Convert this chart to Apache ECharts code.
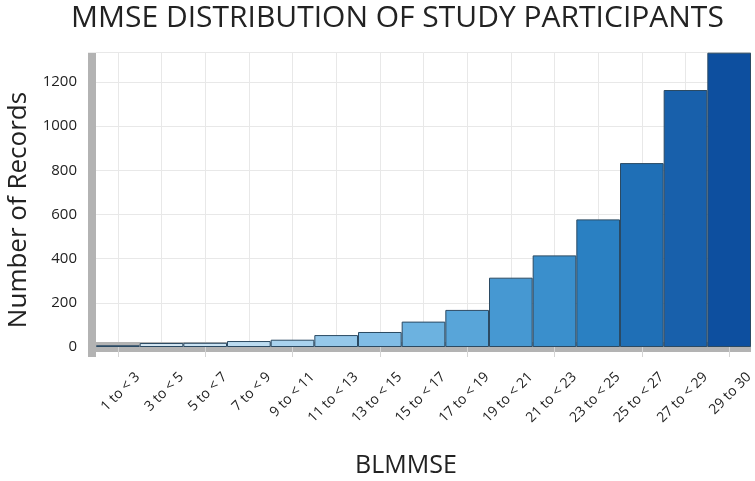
<!DOCTYPE html>
<html>
<head>
<meta charset="utf-8">
<script src="https://cdn.jsdelivr.net/npm/echarts@6/dist/echarts.min.js"></script>
<style>
html,body{margin:0;padding:0;background:#fff;}
#chart{width:755px;height:481px;}
</style>
</head>
<body>
<div id="chart"></div>
<script>
const categories = ['1 to < 3','3 to < 5','5 to < 7','7 to < 9','9 to < 11','11 to < 13','13 to < 15','15 to < 17','17 to < 19','19 to < 21','21 to < 23','23 to < 25','25 to < 27','27 to < 29','29 to 30'];
const counts = [8, 18, 19, 27, 33, 54, 68, 115, 168, 314, 415, 578, 833, 1164, 1333];
const barColors = ['#dfe9f1','#d5e7f3','#cae3f3','#bcdcf1','#a9d2ee','#95c8ea','#80bce5','#6cb2e0','#58a5d9','#4698d2','#3a8fcc','#2a80c2','#1f6fb6','#1860ab','#0d4f9f'];
const yMax = 1333;
const yInterval = 200;

const FONT = '"Open Sans", "Liberation Sans", sans-serif';
const gridLeft = 96, gridRight = 4, gridTop = 52.7, gridBottom = 134;

const chart = echarts.init(document.getElementById('chart'), null, {renderer: 'canvas'});
chart.setOption({
  animation: false,
  backgroundColor: '#ffffff',
  title: [
    {text: 'MMSE DISTRIBUTION OF STUDY PARTICIPANTS', left: 66, top: -2,
     textStyle: {fontFamily: FONT, fontSize: 30, fontWeight: 'normal', color: '#222'}},
    {text: 'BLMMSE', left: 350, top: 448,
     textStyle: {fontFamily: FONT, fontSize: 25, fontWeight: 'normal', color: '#222'}}
  ],
  graphic: [
    {type: 'rect', shape: {x: gridLeft - 8, y: 481 - gridBottom, width: 8, height: 10}, style: {fill: '#b3b3b3'}, z: 10},
    {type: 'text', x: 19, y: 210, rotation: Math.PI / 2,
     style: {text: 'Number of Records', font: '26px ' + FONT, fill: '#222', textAlign: 'center', textVerticalAlign: 'middle'}}
  ],
  grid: {left: gridLeft, right: gridRight, top: gridTop, bottom: gridBottom, containLabel: false, outerBoundsMode: 'none'},
  xAxis: [
    {
      type: 'category', data: categories, position: 'bottom', offset: 5,
      axisLine: {show: true, lineStyle: {color: '#b3b3b3', width: 10, cap: 'butt'}},
      axisTick: {show: false},
      splitLine: {show: true, alignWithLabel: true, lineStyle: {color: '#e8e8e8', width: 1}},
      axisLabel: {rotate: 45, fontFamily: FONT, fontSize: 14, color: '#222', margin: 3, interval: 0,
                  lineHeight: 56, formatter: v => '\u00a0\n' + v}
    },
    {
      type: 'category', data: categories, position: 'bottom', offset: 10, z: 5,
      axisLine: {show: false},
      axisTick: {show: true, alignWithLabel: true, inside: true, length: 10, lineStyle: {color: '#d4d4d4', width: 1}},
      axisLabel: {show: false},
      splitLine: {show: false}
    }
  ],
  yAxis: {
    type: 'value', min: 0, max: yMax, interval: yInterval, offset: 4,
    axisLine: {show: true, lineStyle: {color: '#b3b3b3', width: 8, cap: 'butt'}},
    axisTick: {show: false},
    splitLine: {show: true, lineStyle: {color: '#e8e8e8', width: 1}},
    axisLabel: {fontFamily: FONT, fontSize: 15, color: '#222', margin: 15, showMaxLabel: false, formatter: v => String(v)}
  },
  series: [{
    type: 'bar',
    xAxisIndex: 0,
    barCategoryGap: 0,
    data: counts.map((v, i) => ({value: v, itemStyle: {color: barColors[i]}})),
    itemStyle: {borderColor: '#2b4a63', borderWidth: 1}
  }]
});
</script>
</body>
</html>
